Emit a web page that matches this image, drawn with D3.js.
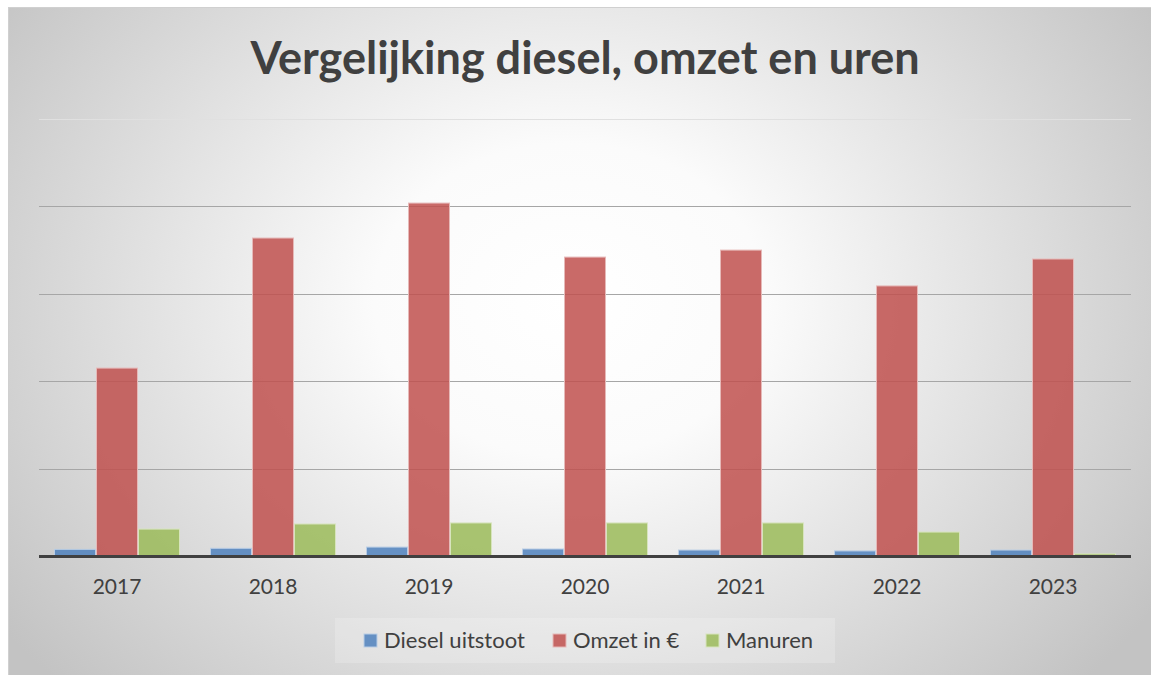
<!DOCTYPE html>
<html>
<head>
<meta charset="utf-8">
<script src="https://cdn.jsdelivr.net/npm/d3@7/dist/d3.min.js"></script>
<style>
  html, body { margin: 0; padding: 0; background: #ffffff; }
  svg { display: block; font-family: Lato, "Open Sans", sans-serif; }
</style>
</head>
<body>
<svg id="chart"></svg>
<script>
// ── data ────────────────────────────────────────────────────────────────────
const years    = ["2017", "2018", "2019", "2020", "2021", "2022", "2023"];
const diesel   = [3800, 4400, 5100, 4000, 3400, 2900, 3400];
const omzet    = [107500, 181900, 201900, 171000, 175000, 154500, 169900];
const manuren  = [15400, 18300, 18900, 18900, 18900, 13700, 1200];
const yTicks   = [0, 50000, 100000, 150000, 200000, 250000];
const seriesNames  = ["Diesel uitstoot", "Omzet in €", "Manuren"];
const seriesColors = ["#4f81bd", "#c0504d", "#9bbb59"];
const seriesStroke = ["#b9cde5", "#e6b9b8", "#d7e4bd"];

function drawChart() {
  const W = 1151, H = 675;
  const svg = d3.select("#chart").attr("width", W).attr("height", H);
  const series = [diesel, omzet, manuren];

  // background frame with radial gradient
  const defs = svg.append("defs");
  const grad = defs.append("radialGradient").attr("id", "bg")
    .attr("gradientUnits", "userSpaceOnUse")
    .attr("cx", 570).attr("cy", 300).attr("r", 700)
    .attr("gradientTransform", "translate(570,300) scale(1,0.8) translate(-570,-300)");
  grad.append("stop").attr("offset", "0%").attr("stop-color", "#ffffff");
  grad.append("stop").attr("offset", "28%").attr("stop-color", "#fbfbfb");
  grad.append("stop").attr("offset", "100%").attr("stop-color", "#c3c3c3");

  svg.append("rect").attr("x", 8.5).attr("y", 7.5).attr("width", 1150).attr("height", 680)
    .attr("fill", "url(#bg)").attr("stroke", "#d0d0d0").attr("stroke-width", 1);

  // title
  svg.append("text").attr("x", 585).attr("y", 74).attr("text-anchor", "middle")
    .attr("fill", "#404040").attr("font-size", 45).attr("font-weight", 700)
    .text("Vergelijking diesel, omzet en uren");

  const x  = d3.scaleBand().domain(years).range([39, 1131]).padding(0);
  const xs = d3.scaleBand().domain(d3.range(series.length)).range([15, x.bandwidth() - 15]).padding(0);
  const y  = d3.scaleLinear().domain([0, 250000]).range([556, 119]);

  // gridlines
  svg.append("g").selectAll("line").data(yTicks.slice(1)).join("line")
    .attr("x1", 39).attr("x2", 1131)
    .attr("y1", d => Math.round(y(d)) + 0.5).attr("y2", d => Math.round(y(d)) + 0.5)
    .attr("stroke", (d, i) => i === yTicks.length - 2 ? "#e0e0e0" : "#a6a6a6").attr("stroke-width", 1);

  // bars
  const groups = svg.append("g").selectAll("g").data(years).join("g")
    .attr("transform", d => `translate(${x(d)},0)`);
  groups.selectAll("rect").data((d, i) => series.map((s, k) => ({ k, v: s[i] }))).join("rect")
    .attr("x", d => xs(d.k) + 0.5).attr("width", xs.bandwidth() - 1)
    .attr("y", d => y(d.v)).attr("height", d => y(0) - y(d.v))
    .attr("fill", d => seriesColors[d.k]).attr("fill-opacity", 0.85)
    .attr("stroke", d => seriesStroke[d.k]).attr("stroke-width", 1);

  // baseline + x axis labels
  svg.append("line").attr("x1", 39).attr("x2", 1131).attr("y1", 556.5).attr("y2", 556.5)
    .attr("stroke", "#404040").attr("stroke-width", 3);
  const xAxis = svg.append("g").attr("transform", "translate(0,556)")
    .call(d3.axisBottom(x).tickSize(0).tickPadding(23));
  xAxis.select(".domain").remove();
  xAxis.selectAll("text").attr("fill", "#404040").attr("font-size", 21)
    .attr("font-family", "Lato, 'Open Sans', sans-serif");

  // legend
  svg.append("rect").attr("x", 335).attr("y", 618).attr("width", 500).attr("height", 45)
    .attr("fill", "#ffffff").attr("fill-opacity", 0.2);
  const legendX = [364, 553, 706];
  const lg = svg.append("g").selectAll("g").data(seriesNames).join("g")
    .attr("transform", (d, i) => `translate(${legendX[i]},634)`);
  lg.append("rect").attr("width", 13).attr("height", 13)
    .attr("fill", (d, i) => seriesColors[i]).attr("fill-opacity", 0.85)
    .attr("stroke", (d, i) => seriesStroke[i]);
  lg.append("text").attr("x", 20).attr("y", 13.5).attr("fill", "#404040")
    .attr("font-size", 22).text(d => d);
}

drawChart();
</script>
</body>
</html>
